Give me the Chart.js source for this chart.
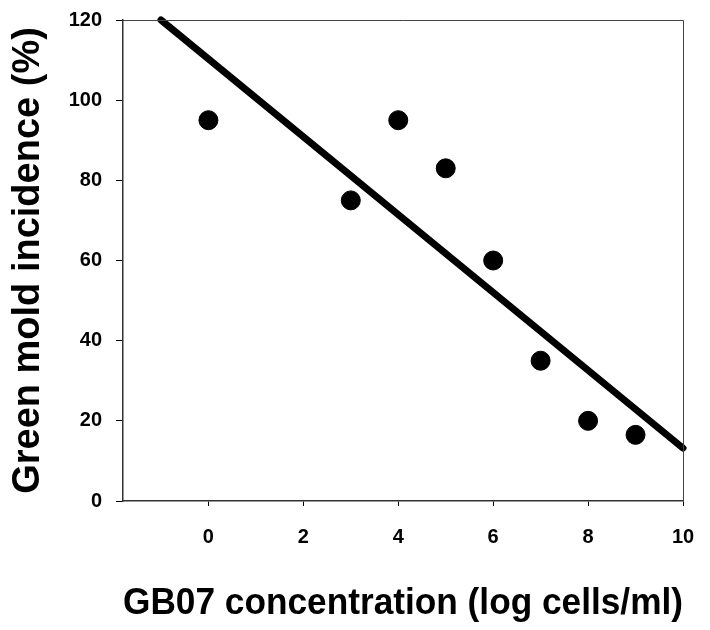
<!DOCTYPE html>
<html>
<head>
<meta charset="utf-8">
<script src="https://cdn.jsdelivr.net/npm/chart.js@4.4.0/dist/chart.umd.min.js"></script>
<style>
  html, body { margin: 0; padding: 0; background: #ffffff; }
  #chart { display: block; }
</style>
</head>
<body>
<canvas id="chart" width="710" height="630"></canvas>
<script>
// Datos
const concX = [0, 3, 4, 5, 6, 7, 8, 9];
const incidenceY = [95, 75, 95, 83, 60, 35, 20, 16.5];
const fitX = [-1, 10];
const fitY = [120, 13.2];
const xTicks = [0, 2, 4, 6, 8, 10];
const yTicks = [0, 20, 40, 60, 80, 100, 120];

const fontFamily = '"Liberation Sans", Arial, Helvetica, sans-serif';

// marco fino arriba y a la derecha
const framePlugin = {
  id: 'frame',
  afterDraw(chart) {
    const { ctx, chartArea: a } = chart;
    ctx.save();
    ctx.strokeStyle = '#444';
    ctx.lineWidth = 1;
    ctx.beginPath();
    ctx.moveTo(a.left, a.top + 0.5);
    ctx.lineTo(a.right + 0.5, a.top + 0.5);
    ctx.lineTo(a.right + 0.5, a.bottom);
    ctx.stroke();
    ctx.restore();
  }
};

new Chart(document.getElementById('chart'), {
  type: 'scatter',
  data: {
    datasets: [
      {
        type: 'line',
        label: 'Ajuste',
        data: fitX.map((x, i) => ({ x: x, y: fitY[i] })),
        borderColor: '#000',
        borderWidth: 7,
        borderCapStyle: 'round',
        pointRadius: 0,
        fill: false,
        clip: false,
        order: 2
      },
      {
        label: 'Incidencia',
        data: concX.map((x, i) => ({ x: x, y: incidenceY[i] })),
        backgroundColor: '#000',
        borderColor: '#000',
        pointRadius: 9.5,
        pointHoverRadius: 9.5,
        order: 1
      }
    ]
  },
  options: {
    responsive: false,
    animation: false,
    layout: { padding: { top: 20, right: 27, left: 0, bottom: 0 } },
    plugins: {
      legend: { display: false },
      tooltip: { enabled: false }
    },
    scales: {
      x: {
        type: 'linear',
        min: -1.8,
        max: 10,
        afterBuildTicks: axis => { axis.ticks = xTicks.map(v => ({ value: v })); },
        afterFit: axis => {
          axis.height = 129;
          axis.paddingLeft = 0;
          axis.paddingRight = 0;
        },
        grid: { drawOnChartArea: false, drawTicks: true, tickLength: 5, color: '#000' },
        border: { display: true, color: '#333', width: 1.5 },
        ticks: {
          color: '#000',
          padding: 19,
          maxRotation: 0,
          font: { family: fontFamily, size: 20, weight: 'bold' }
        },
        title: {
          display: true,
          text: 'GB07 concentration (log cells/ml)',
          color: '#000',
          padding: { top: 0, bottom: 4 },
          font: { family: fontFamily, size: 37, weight: 'bold' }
        }
      },
      y: {
        type: 'linear',
        min: 0,
        max: 120,
        afterBuildTicks: axis => { axis.ticks = yTicks.map(v => ({ value: v })); },
        afterFit: axis => {
          axis.width = 123;
          axis.paddingTop = 0;
          axis.paddingBottom = 0;
        },
        grid: { drawOnChartArea: false, drawTicks: true, tickLength: 7, color: '#000' },
        border: { display: true, color: '#333', width: 1.5 },
        ticks: {
          color: '#000',
          padding: 14,
          font: { family: fontFamily, size: 20, weight: 'bold' }
        },
        title: {
          display: true,
          text: 'Green mold incidence (%)',
          color: '#000',
          padding: { top: 6, bottom: 0 },
          font: { family: fontFamily, size: 38, weight: 'bold' }
        }
      }
    }
  },
  plugins: [framePlugin]
});
</script>
</body>
</html>
